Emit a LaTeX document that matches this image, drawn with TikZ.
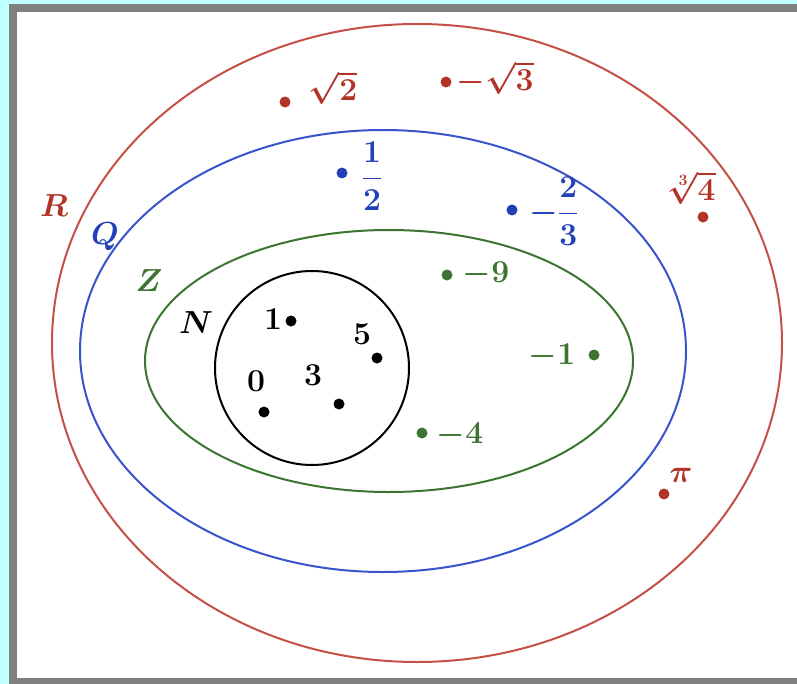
\RequirePackage{fix-cm}
\documentclass[tikz,border=0pt]{standalone}
\usepackage{amsmath}
\definecolor{setred}{RGB}{196,80,70}
\definecolor{txtred}{RGB}{178,52,40}
\definecolor{setblue}{RGB}{56,84,204}
\definecolor{txtblue}{RGB}{34,64,184}
\definecolor{setgreen}{RGB}{58,118,48}
\definecolor{txtgreen}{RGB}{62,116,50}
\definecolor{framecyan}{RGB}{192,255,255}
\definecolor{framegray}{RGB}{128,128,128}
\tikzset{
  elem/.style={circle,fill=#1,inner sep=0pt,minimum size=11bp},
  lbl/.style={text=#1,inner sep=1bp,font=\fontsize{32}{38}\selectfont\boldmath},
  setline/.style={draw=#1,line width=2bp}
}
\begin{document}
\begin{tikzpicture}[x=1bp,y=-1bp]
  \path[use as bounding box] (0,0) rectangle (797,684);
  \fill[framecyan] (0,0) rectangle (797,684);
  \fill[framegray] (9,4) rectangle (797,684);
  \fill[white] (17,12) rectangle (797,678);

  % the four sets
  \draw[setline=setred]   (417,343) ellipse [x radius=365,y radius=319];
  \draw[setline=setblue]  (383,351) ellipse [x radius=303,y radius=221];
  \draw[setline=setgreen] (389,361) ellipse [x radius=244,y radius=131];
  \draw[setline=black]    (312,368) circle [radius=97];

  \node[lbl=txtred]   (nameR) at (54,206)  {$R$};
  \node[lbl=txtblue]  (nameQ) at (105,237) {$Q$};
  \node[lbl=txtgreen] (nameZ) at (149,281) {$Z$};
  \node[lbl=black]    (nameN) at (196,323) {$N$};

  % real numbers
  \node[elem=txtred] (sqrtTwo)   at (285,102) {};
  \node[lbl=txtred]  at (333,88)  {$\sqrt{2}$};
  \node[elem=txtred] (sqrtThree) at (446,82)  {};
  \node[lbl=txtred]  at (495,78)  {$-\sqrt{3}$};
  \node[elem=txtred] (cbrtFour)  at (703,217) {};
  \node[lbl=txtred]  at (692,188) {$\sqrt[3]{4}$};
  \node[elem=txtred] (piNum)     at (664,494) {};
  \node[lbl=txtred]  at (681,475) {$\pi$};

  % rationals
  \node[elem=txtblue] (half)     at (342,173) {};
  \node[lbl=txtblue]  at (372,176) {$\dfrac{1}{2}$};
  \node[elem=txtblue] (twoThird) at (512,210) {};
  \node[lbl=txtblue]  at (554,211) {$-\dfrac{2}{3}$};

  % integers
  \node[elem=txtgreen] (minusNine) at (447,275) {};
  \node[lbl=txtgreen]  at (486,274) {$-9$};
  \node[elem=txtgreen] (minusOne)  at (594,355) {};
  \node[lbl=txtgreen]  at (552,356) {$-1$};
  \node[elem=txtgreen] (minusFour) at (422,433) {};
  \node[lbl=txtgreen]  at (460,435) {$-4$};

  % naturals
  \node[elem=black] (one)   at (291,321) {};
  \node[lbl=black]  at (273,319) {$1$};
  \node[elem=black] (five)  at (377,358) {};
  \node[lbl=black]  at (362,334) {$5$};
  \node[elem=black] (zero)  at (264,412) {};
  \node[lbl=black]  at (256,381) {$0$};
  \node[elem=black] (three) at (339,404) {};
  \node[lbl=black]  at (313,375) {$3$};
\end{tikzpicture}
\end{document}
